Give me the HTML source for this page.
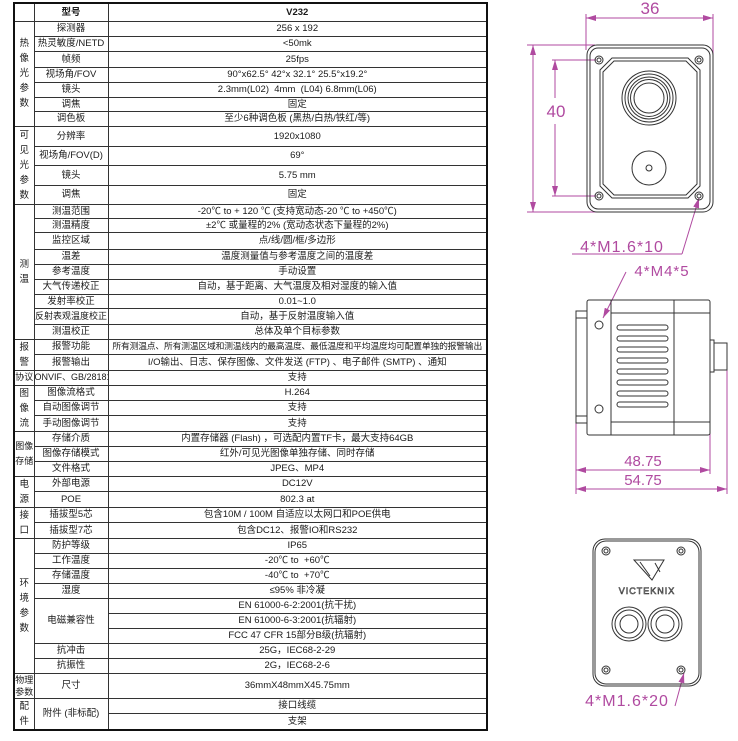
<!DOCTYPE html>
<html><head><meta charset="utf-8"><style>
body{margin:0;width:738px;height:741px;background:#fff;position:relative;overflow:hidden;font-family:"Liberation Sans","Noto Sans CJK SC",sans-serif;}
table{position:absolute;left:13px;top:2px;width:473px;border-collapse:collapse;table-layout:fixed;border:2px solid #111;font-size:9.5px;color:#1a1a1a;}
td{border:1px solid #333;padding:0;text-align:center;vertical-align:middle;line-height:11px;overflow:hidden;white-space:nowrap;}
td.g{line-height:15px;font-size:9.5px;}
</style></head><body>
<table>
<colgroup><col style="width:20px"><col style="width:74px"><col style="width:379px"></colgroup>
<tr style="height:18px"><td></td><td><b>型号</b></td><td><b>V232</b></td></tr>
<tr style="height:15px"><td class="g" rowspan="7">热<br>像<br>光<br>参<br>数</td><td>探测器</td><td>256 x 192</td></tr>
<tr style="height:15px"><td>热灵敏度/NETD</td><td>&lt;50mk</td></tr>
<tr style="height:16px"><td>帧频</td><td>25fps</td></tr>
<tr style="height:15px"><td>视场角/FOV</td><td>90°x62.5° 42°x 32.1° 25.5°x19.2°</td></tr>
<tr style="height:15px"><td>镜头</td><td>2.3mm(L02)&nbsp; 4mm&nbsp; (L04) 6.8mm(L06)</td></tr>
<tr style="height:14px"><td>调焦</td><td>固定</td></tr>
<tr style="height:15px"><td>调色板</td><td>至少6种调色板 (黑热/白热/铁红/等)</td></tr>
<tr style="height:20px"><td class="g" rowspan="4">可<br>见<br>光<br>参<br>数</td><td>分辨率</td><td>1920x1080</td></tr>
<tr style="height:19px"><td>视场角/FOV(D)</td><td>69°</td></tr>
<tr style="height:20px"><td>镜头</td><td>5.75 mm</td></tr>
<tr style="height:19px"><td>调焦</td><td>固定</td></tr>
<tr style="height:14px"><td class="g" rowspan="9">测<br>温</td><td>测温范围</td><td>-20℃ to + 120 ℃ (支持宽动态-20 ℃ to +450℃)</td></tr>
<tr style="height:14px"><td>测温精度</td><td>±2℃ 或量程的2% (宽动态状态下量程的2%)</td></tr>
<tr style="height:17px"><td>监控区域</td><td>点/线/圆/框/多边形</td></tr>
<tr style="height:15px"><td>温差</td><td>温度测量值与参考温度之间的温度差</td></tr>
<tr style="height:15px"><td>参考温度</td><td>手动设置</td></tr>
<tr style="height:15px"><td>大气传递校正</td><td>自动，基于距离、大气温度及相对湿度的输入值</td></tr>
<tr style="height:14px"><td>发射率校正</td><td>0.01~1.0</td></tr>
<tr style="height:16px"><td style="font-size:9px">反射表观温度校正</td><td>自动，基于反射温度输入值</td></tr>
<tr style="height:15px"><td>测温校正</td><td>总体及单个目标参数</td></tr>
<tr style="height:15px"><td class="g" rowspan="2">报<br>警</td><td>报警功能</td><td style="font-size:8.8px;letter-spacing:-0.2px">所有测温点、所有测温区域和测温线内的最高温度、最低温度和平均温度均可配置单独的报警输出</td></tr>
<tr style="height:15px"><td>报警输出</td><td>I/O输出、日志、保存图像、文件发送 (FTP) 、电子邮件 (SMTP) 、通知</td></tr>
<tr style="height:15px"><td style="font-size:9px">协议</td><td style="font-size:9px">ONVIF、GB/28181</td><td>支持</td></tr>
<tr style="height:15px"><td class="g" rowspan="3">图<br>像<br>流</td><td>图像流格式</td><td>H.264</td></tr>
<tr style="height:15px"><td>自动图像调节</td><td>支持</td></tr>
<tr style="height:15px"><td>手动图像调节</td><td>支持</td></tr>
<tr style="height:15px"><td class="g" rowspan="3" style="font-size:9px">图像<br>存储</td><td>存储介质</td><td>内置存储器 (Flash) ，可选配内置TF卡，最大支持64GB</td></tr>
<tr style="height:15px"><td>图像存储模式</td><td>红外/可见光图像单独存储、同时存储</td></tr>
<tr style="height:15px"><td>文件格式</td><td>JPEG、MP4</td></tr>
<tr style="height:15px"><td class="g" rowspan="2">电<br>源</td><td>外部电源</td><td>DC12V</td></tr>
<tr style="height:15px"><td>POE</td><td>802.3 at</td></tr>
<tr style="height:15px"><td class="g" rowspan="2">接<br>口</td><td>插拔型5芯</td><td>包含10M / 100M 自适应以太网口和POE供电</td></tr>
<tr style="height:15px"><td>插拔型7芯</td><td>包含DC12、报警IO和RS232</td></tr>
<tr style="height:15px"><td class="g" rowspan="9">环<br>境<br>参<br>数</td><td>防护等级</td><td>IP65</td></tr>
<tr style="height:15px"><td>工作温度</td><td>-20℃ to&nbsp; +60℃</td></tr>
<tr style="height:15px"><td>存储温度</td><td>-40℃ to&nbsp; +70℃</td></tr>
<tr style="height:15px"><td>湿度</td><td>≤95% 非冷凝</td></tr>
<tr style="height:15px"><td rowspan="3">电磁兼容性</td><td>EN 61000-6-2:2001(抗干扰)</td></tr>
<tr style="height:15px"><td>EN 61000-6-3:2001(抗辐射)</td></tr>
<tr style="height:15px"><td>FCC 47 CFR 15部分B级(抗辐射)</td></tr>
<tr style="height:15px"><td>抗冲击</td><td>25G，IEC68-2-29</td></tr>
<tr style="height:15px"><td>抗振性</td><td>2G，IEC68-2-6</td></tr>
<tr style="height:24px"><td class="g" style="font-size:9px;line-height:12px">物理<br>参数</td><td>尺寸</td><td>36mmX48mmX45.75mm</td></tr>
<tr style="height:15px"><td class="g" rowspan="2">配<br>件</td><td rowspan="2">附件 (非标配)</td><td>接口线缆</td></tr>
<tr style="height:15px"><td>支架</td></tr>
</table>

<svg width="738" height="741" style="position:absolute;left:0;top:0" xmlns="http://www.w3.org/2000/svg">
<defs>
<marker id="a" viewBox="0 0 10 6" refX="10" refY="3" markerWidth="10" markerHeight="6" orient="auto-start-reverse"><path d="M0,0L10,3L0,6z" fill="#b04aa0"/></marker>
</defs>
<g stroke="#b04aa0" stroke-width="1" fill="none">
<line x1="586" y1="14" x2="586" y2="50"/><line x1="713" y1="14" x2="713" y2="60"/>
<line x1="586" y1="18" x2="713" y2="18" marker-start="url(#a)" marker-end="url(#a)"/>
<line x1="527" y1="45" x2="595" y2="45"/><line x1="527" y1="212" x2="600" y2="212"/>
<line x1="533" y1="45" x2="533" y2="212" marker-start="url(#a)" marker-end="url(#a)"/>
<line x1="552" y1="60" x2="596" y2="60"/><line x1="552" y1="196" x2="596" y2="196"/>
<line x1="555" y1="60" x2="555" y2="98" marker-start="url(#a)"/><line x1="555" y1="124" x2="555" y2="196" marker-end="url(#a)"/>
<line x1="682" y1="254" x2="699" y2="198" marker-end="url(#a)"/>
<line x1="572" y1="254" x2="682" y2="254"/>
<line x1="626" y1="272" x2="603" y2="318" marker-end="url(#a)"/>
<line x1="576" y1="350" x2="576" y2="494"/><line x1="710" y1="430" x2="710" y2="474"/><line x1="727" y1="370" x2="727" y2="494"/>
<line x1="576" y1="470" x2="710" y2="470" marker-start="url(#a)" marker-end="url(#a)"/>
<line x1="576" y1="489" x2="727" y2="489" marker-start="url(#a)" marker-end="url(#a)"/>
<line x1="675" y1="706" x2="684" y2="673" marker-end="url(#a)"/>
</g>
<g fill="#b04aa0" font-family="Liberation Sans, sans-serif" text-anchor="middle">
<text x="650" y="14" font-size="17">36</text>
<text x="556" y="117" font-size="17">40</text>
<text x="622" y="252" font-size="16" letter-spacing="1">4*M1.6*10</text>
<text x="662" y="276" font-size="15" letter-spacing="1">4*M4*5</text>
<text x="643" y="466" font-size="15">48.75</text>
<text x="643" y="485" font-size="15">54.75</text>
<text x="627" y="706" font-size="16" letter-spacing="1">4*M1.6*20</text>
</g>
<g stroke="#333" stroke-width="1" fill="none">
<rect x="587" y="45" width="126" height="167" rx="10"/>
<rect x="590" y="48" width="120" height="161" rx="8"/>
<path d="M612,58 L688,58 L700,70 L700,186 L688,198 L612,198 L600,186 L600,70 Z"/>
<path d="M614,61 L686,61 L697,72 L697,184 L686,195 L614,195 L603,184 L603,72 Z"/>
<circle cx="599" cy="60" r="4"/><circle cx="599" cy="60" r="2"/>
<circle cx="699" cy="60" r="4"/><circle cx="699" cy="60" r="2"/>
<circle cx="599" cy="196" r="4"/><circle cx="599" cy="196" r="2"/>
<circle cx="699" cy="196" r="4"/><circle cx="699" cy="196" r="2"/>
<circle cx="649" cy="98" r="27"/><circle cx="649" cy="98" r="24"/><circle cx="649" cy="98" r="21"/><circle cx="649" cy="98" r="18.5"/><circle cx="649" cy="98" r="15"/>
<circle cx="649" cy="168" r="17"/><circle cx="649" cy="168" r="3"/>
<rect x="587" y="300" width="123" height="135" rx="2"/>
<rect x="576" y="311" width="11" height="112"/>
<line x1="576" y1="318" x2="587" y2="318"/><line x1="576" y1="416" x2="587" y2="416"/>
<line x1="611" y1="300" x2="611" y2="435"/><line x1="674" y1="300" x2="674" y2="435"/>
<line x1="611" y1="313" x2="710" y2="313"/><line x1="611" y1="422" x2="710" y2="422"/>
<circle cx="599" cy="325" r="4"/><circle cx="599" cy="409" r="4"/>
<rect x="617" y="325" width="51" height="5" rx="2.5"/><rect x="617" y="336" width="51" height="5" rx="2.5"/>
<rect x="617" y="347" width="51" height="5" rx="2.5"/><rect x="617" y="358" width="51" height="5" rx="2.5"/>
<rect x="617" y="369" width="51" height="5" rx="2.5"/><rect x="617" y="380" width="51" height="5" rx="2.5"/>
<rect x="617" y="391" width="51" height="5" rx="2.5"/><rect x="617" y="402" width="51" height="5" rx="2.5"/>
<rect x="710" y="340" width="4" height="32"/><rect x="714" y="343" width="13" height="27"/>
<rect x="593" y="539" width="108" height="147" rx="12"/>
<rect x="595" y="541" width="104" height="143" rx="11"/>
<circle cx="606" cy="551" r="4"/><circle cx="606" cy="551" r="2"/>
<circle cx="681" cy="551" r="4"/><circle cx="681" cy="551" r="2"/>
<circle cx="606" cy="670" r="4"/><circle cx="606" cy="670" r="2"/>
<circle cx="681" cy="670" r="4"/><circle cx="681" cy="670" r="2"/>
<path d="M634,560 L664,560 L652,580 Z M640,562 L650,576 M655,563 L660,572"/>
<circle cx="629" cy="624" r="17"/><circle cx="629" cy="624" r="14"/><circle cx="629" cy="624" r="9"/>
<circle cx="665" cy="624" r="17"/><circle cx="665" cy="624" r="14"/><circle cx="665" cy="624" r="9"/>
</g>
<text x="647" y="594" font-size="9" font-family="Liberation Sans, sans-serif" text-anchor="middle" fill="none" stroke="#333" stroke-width="0.6" letter-spacing="1">VICTEKNIX</text>
</svg>
</body></html>
